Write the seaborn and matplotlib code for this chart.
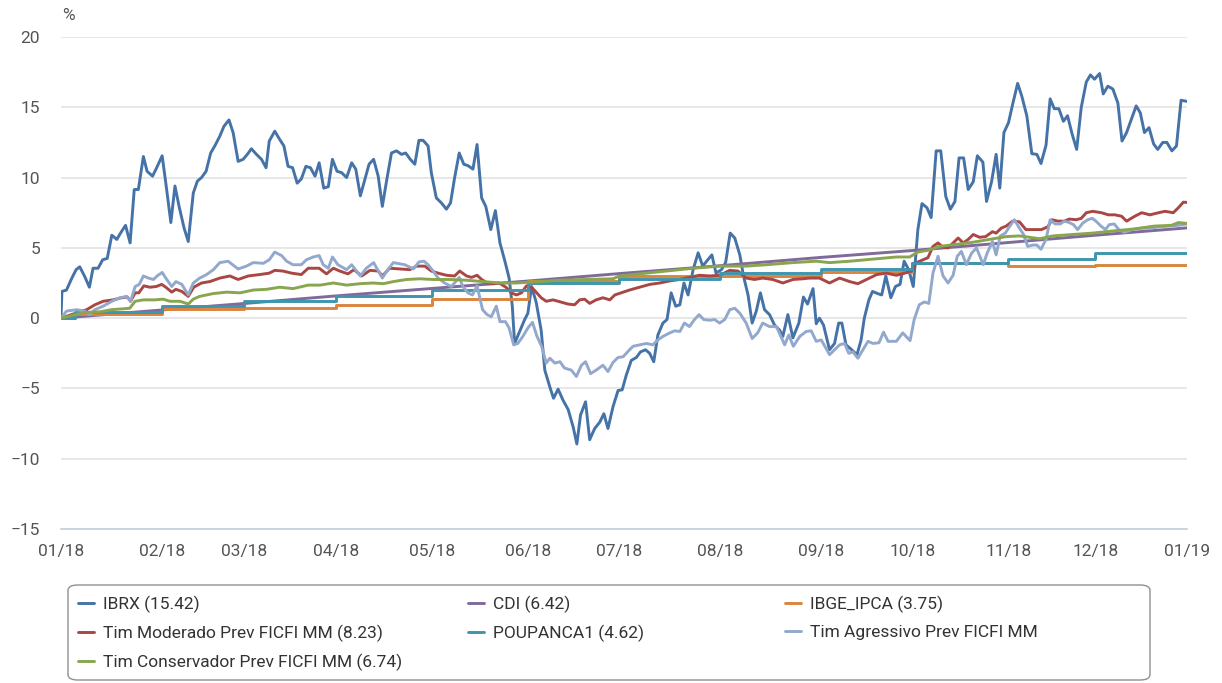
import matplotlib
matplotlib.use('Agg')
import matplotlib.pyplot as plt
from matplotlib import font_manager
from matplotlib.patches import FancyBboxPatch
import seaborn as sns
import pandas as pd

# eixo x: dias úteis de 2018, ticks no início de cada mês
month_labels = ['01/18', '02/18', '03/18', '04/18', '05/18', '06/18', '07/18',
                '08/18', '09/18', '10/18', '11/18', '12/18', '01/19']
month_day = [0, 22, 40, 60, 81, 102, 122, 144, 166, 186, 207, 226, 246]

ibrx_day = [0, 0.2, 1.2, 2.3, 3.3, 4.1, 5.2, 6.2, 7.0, 8.1, 9.1, 10.1, 11.1, 12.2, 13.0, 14.1, 15.1, 16.0, 16.9,
            18.0, 18.8, 20.0, 20.9, 22.1, 22.9, 24.0, 24.9, 25.8, 26.9, 27.8, 28.9, 29.8, 30.7, 31.7, 32.7,
            33.6, 34.7, 35.6, 36.7, 37.6, 38.7, 39.8, 40.7, 41.6, 42.7, 43.8, 44.8, 45.5, 46.7, 47.8, 48.7,
            49.6, 50.6, 51.6, 52.5, 53.5, 54.5, 55.5, 56.4, 57.4, 58.4, 59.3, 60.3, 61.3, 62.4, 63.5, 64.4,
            65.4, 66.4, 67.3, 68.3, 69.3, 70.2, 71.2, 72.2, 73.3, 74.4, 75.3, 76.3, 77.3, 78.2, 79.1, 80.2,
            80.9, 82.0, 83.1, 84.2, 85.1, 86.0, 87.0, 88.0, 88.9, 90.0, 90.9, 91.9, 92.8, 93.9, 94.9, 95.9,
            96.9, 97.9, 98.6, 99.1, 100.2, 101.3, 102.0, 102.8, 103.8, 104.9, 105.7, 106.8, 107.6, 108.6,
            109.7, 110.8, 111.9, 112.7, 113.5, 114.6, 115.5, 116.6, 117.7, 118.6, 119.5, 120.6, 121.7,
            122.6, 123.5, 124.6, 125.7, 126.6, 127.7, 128.6, 129.5, 130.4, 131.5, 132.4, 133.3, 134.3,
            135.2, 136.1, 137.0, 138.1, 139.2, 140.2, 141.3, 142.2, 143.1, 144.3, 145.2, 146.2, 147.2,
            148.3, 149.1, 150.1, 151.0, 151.9, 152.8, 153.7, 154.8, 155.9, 157.0, 157.7, 158.8, 159.9,
            161.2, 162.2, 163.1, 164.3, 165.0, 165.7, 166.6, 167.9, 169.0, 169.9, 170.6, 171.5, 172.4,
            173.9, 174.8, 175.5, 176.5, 177.3, 178.4, 179.3, 180.2, 181.3, 182.3, 183.3, 184.2, 185.2,
            186.2, 187.2, 188.1, 189.2, 190.1, 191.2, 192.2, 193.3, 194.3, 195.3, 196.2, 197.2, 198.2,
            199.3, 200.2, 201.4, 202.2, 203.3, 204.3, 205.1, 206.0, 207.0, 207.9, 209.0, 209.9, 211.0,
            212.1, 213.2, 214.1, 215.2, 216.1, 217.0, 218.0, 219.0, 219.9, 220.9, 221.9, 222.9, 224.0,
            224.9, 225.8, 226.9, 227.7, 228.7, 229.8, 230.9, 231.8, 232.8, 233.8, 234.9, 235.8, 236.7,
            237.7, 238.7, 239.6, 240.7, 241.6, 242.7, 243.7, 244.7, 246]
ibrx_val = [0, 1.9, 2.0, 2.8, 3.45, 3.65, 2.95, 2.2, 3.55, 3.55, 4.15, 4.25, 5.9, 5.6, 6.05, 6.6, 5.35, 9.15, 9.15,
            11.5, 10.45, 10.1, 10.7, 11.55, 9.6, 6.8, 9.4, 7.95, 6.4, 5.45, 8.9, 9.75, 10.0, 10.45, 11.75,
            12.25, 12.95, 13.65, 14.1, 13.2, 11.15, 11.3, 11.65, 12.05, 11.65, 11.3, 10.7, 12.6, 13.3, 12.7, 12.25,
            10.8, 10.7, 9.6, 9.9, 10.8, 10.7, 10.1, 11.05, 9.25, 9.35, 11.3, 10.45, 10.35, 10.0, 11.05, 10.6,
            8.7, 9.9, 10.95, 11.3, 10.1, 7.95, 9.9, 11.75, 11.9, 11.65, 11.75, 11.3, 10.95, 12.65, 12.65, 12.25,
            10.35, 8.55, 8.2, 7.75, 8.2, 10.0, 11.75, 10.95, 10.85, 10.6, 12.35, 8.55, 7.95, 6.3, 7.65, 5.35,
            4.15, 2.85, 0.85, -1.8, -0.95, -0.1, 0.35, 2.25, 1.15, -0.85, -3.7, -4.9, -5.7, -5.05,
            -5.85, -6.5, -7.75, -8.95, -6.9, -5.95, -8.65, -7.85, -7.4, -6.8, -7.85, -6.3, -5.15,
            -5.1, -4.05, -3.0, -2.8, -2.4, -2.25, -2.5, -3.1, -1.2, -0.35, -0.1, 1.8, 0.85,
            0.95, 2.5, 1.65, 3.45, 4.65, 3.7, 4.15, 4.5, 3.2, 3.45, 3.95, 6.05, 5.7,
            4.5, 3.0, 1.65, -0.35, 0.5, 1.8, 0.6, 0.25, -0.5, -0.85, -1.3, 0.25, -1.4,
            -0.35, 1.5, 1.0, 2.1, -0.4, 0.0, -0.5, -2.25, -1.8, -0.35, -0.35, -1.9, -2.15,
            -2.6, -1.55, 0.0, 1.3, 1.9, 1.75, 1.65, 3.0, 1.45, 2.25, 2.4, 4.05, 3.45,
            2.25, 6.3, 8.15, 7.85, 7.15, 11.9, 11.9, 8.65, 7.75, 8.3, 11.4, 11.4, 9.15,
            9.7, 11.55, 11.1, 8.3, 9.7, 11.65, 9.25, 13.2, 13.9, 15.2, 16.7, 15.8, 14.4,
            11.7, 11.65, 11.0, 12.3, 15.6, 14.9, 14.9, 14.0, 14.4, 13.1, 12.0, 15.0, 16.8,
            17.3, 17.0, 17.4, 15.95, 16.5, 16.3, 15.3, 12.6, 13.2, 14.1, 15.1, 14.6, 13.2,
            13.55, 12.4, 12.0, 12.5, 12.5, 11.9, 12.25, 15.5, 15.42]

cdi_day = month_day
cdi_val = [0, 0.58, 1.04, 1.58, 2.11, 2.64, 3.17, 3.73, 4.32, 4.81, 5.38, 5.90, 6.42]

ipca_day = [0, 3, 22, 40, 60, 81, 102, 122, 144, 166, 186, 207, 226, 246]
ipca_val = [0, 0.3, 0.62, 0.75, 0.95, 1.38, 2.62, 2.98, 2.98, 3.3, 3.93, 3.7, 3.76, 3.76]

poup_day = [0, 3, 22, 40, 60, 81, 102, 122, 144, 166, 186, 207, 226, 246]
poup_val = [0, 0.42, 0.85, 1.2, 1.6, 2.0, 2.5, 2.8, 3.19, 3.5, 3.9, 4.2, 4.62, 4.62]

mod_day = [0, 4.1, 5.6, 7.4, 9.2, 11.4, 13.2, 14.5, 15.2, 16.2, 17.0, 18.1, 19.4, 20.8, 22.0, 22.9, 24.2, 25.1,
           26.4, 27.8, 29.0, 30.7, 32.5, 34.7, 36.9, 38.7, 40.9, 43.4, 45.5, 46.7, 48.5, 50.4, 52.5, 54.0,
           56.4, 58.0, 59.5, 60.9, 62.7, 64.0, 65.7, 67.5, 69.3, 70.2, 71.8, 74.0, 76.2, 77.7, 79.5, 80.9,
           82.4, 84.2, 86.0, 87.1, 88.6, 89.7, 90.9, 91.9, 93.1, 94.4, 95.7, 97.2, 98.4, 99.5, 100.6,
           101.7, 102.8, 103.8, 104.9, 106.0, 107.5, 108.6, 110.8, 112.2, 113.3, 114.4, 115.5, 116.9,
           118.4, 119.9, 121.0, 122.4, 124.2, 126.4, 128.6, 130.8, 133.0, 135.2, 137.3, 139.5, 141.7,
           143.9, 146.1, 147.9, 149.7, 151.5, 153.3, 155.5, 157.7, 159.9, 162.1, 163.5, 165.7, 167.9,
           170.1, 172.3, 174.1, 176.0, 178.2, 180.3, 182.5, 184.3, 185.8, 186.9, 188.3, 189.4, 190.5,
           191.6, 192.7, 193.8, 194.9, 196.0, 197.1, 198.2, 199.3, 200.7, 202.0, 203.5, 204.3, 205.4,
           206.5, 207.9, 209.4, 210.8, 212.5, 214.2, 215.6, 216.5, 217.8, 219.2, 220.3, 221.8, 222.9,
           224.0, 225.4, 227.3, 228.8, 230.2, 231.7, 232.8, 234.6, 236.1, 237.9, 239.8, 241.2, 243.0,
           244.1, 245.2, 246]
mod_val = [0, 0.45, 0.6, 0.95, 1.2, 1.3, 1.45, 1.5, 1.2, 1.8, 1.8, 2.3, 2.2, 2.25, 2.4, 2.2, 1.85, 2.05,
           1.9, 1.55, 2.2, 2.5, 2.6, 2.85, 3.0, 2.75, 3.0, 3.1, 3.2, 3.4, 3.35, 3.2, 3.1, 3.55,
           3.55, 3.15, 3.55, 3.35, 3.15, 3.45, 3.0, 3.4, 3.35, 3.0, 3.55, 3.5, 3.45, 3.7, 3.7, 3.35,
           3.2, 3.05, 3.0, 3.35, 3.0, 2.9, 3.05, 2.75, 2.5, 2.45, 2.5, 2.2, 1.8, 1.65, 1.8,
           2.3, 2.2, 1.85, 1.45, 1.2, 1.3, 1.2, 1.0, 0.95, 1.3, 1.35, 1.05, 1.3,
           1.45, 1.3, 1.65, 1.8, 2.0, 2.2, 2.4, 2.5, 2.65, 2.75, 2.9, 3.05, 3.0,
           3.05, 3.4, 3.35, 2.85, 2.75, 2.85, 2.75, 2.5, 2.75, 2.8, 2.85, 2.85, 2.5,
           2.85, 2.6, 2.45, 2.75, 3.1, 3.2, 3.05, 3.2, 3.35, 3.95, 4.15, 4.3, 5.1,
           5.35, 5.05, 5.0, 5.35, 5.7, 5.35, 5.6, 5.95, 5.75, 5.8, 6.15, 6.05, 6.4,
           6.55, 6.9, 6.85, 6.3, 6.3, 6.3, 6.5, 7.0, 6.9, 6.9, 7.05, 7.0, 7.1,
           7.5, 7.6, 7.5, 7.35, 7.35, 7.25, 6.9, 7.25, 7.5, 7.35, 7.5, 7.6, 7.5,
           7.85, 8.25, 8.23]

agr_day = [0, 1.2, 3.4, 5.2, 6.2, 7.4, 9.2, 11.1, 12.9, 14.3, 15.2, 16.2, 17.1, 18.0, 19.1, 20.2, 21.0, 22.1,
           23.1, 24.2, 25.1, 26.4, 27.8, 28.9, 30.3, 31.8, 33.3, 34.7, 36.5, 38.7, 40.5, 42.0, 44.2, 45.5,
           46.7, 48.2, 49.3, 50.7, 52.5, 53.6, 55.1, 56.4, 57.3, 58.4, 59.3, 60.5, 62.4, 63.5, 65.4, 66.7,
           68.3, 70.2, 71.2, 72.6, 75.1, 77.0, 78.2, 79.3, 80.2, 81.3, 82.4, 83.8, 85.3, 87.0, 87.8, 88.9,
           89.9, 90.9, 92.1, 93.1, 94.0, 95.1, 95.9, 97.1, 97.9, 98.9, 99.8, 100.9, 102.0, 103.0, 104.0,
           105.0, 106.0, 106.8, 107.9, 109.0, 110.0, 111.5, 112.6, 113.7, 114.6, 115.7, 116.9, 118.4,
           119.5, 120.6, 121.7, 122.8, 124.2, 125.0, 126.4, 127.9, 129.3, 130.4, 131.5, 133.0, 134.1,
           135.2, 136.2, 137.3, 138.4, 139.4, 140.4, 141.7, 142.8, 143.9, 145.0, 146.1, 147.2, 148.3,
           149.7, 151.0, 152.2, 153.3, 154.8, 156.3, 158.1, 159.0, 160.0, 161.4, 162.8, 163.9, 165.0,
           166.1, 167.9, 169.0, 170.1, 171.2, 172.1, 173.0, 174.1, 175.2, 176.3, 177.4, 178.7, 179.7,
           180.7, 182.5, 183.9, 185.5, 186.4, 187.5, 188.6, 189.6, 190.5, 191.6, 192.7, 193.8, 194.9,
           195.8, 196.7, 197.8, 198.9, 200.0, 201.5, 202.3, 203.5, 204.3, 205.2, 206.3, 207.2, 208.3,
           209.2, 210.3, 211.2, 212.3, 213.2, 214.1, 215.2, 216.1, 217.2, 218.3, 219.2, 220.3, 221.2,
           222.1, 223.2, 224.3, 225.3, 226.1, 227.2, 228.2, 229.0, 230.1, 231.1, 232.3, 234.0, 236.0,
           238.0, 240.0, 242.0, 244.0, 246]
agr_val = [0, 0.5, 0.6, 0.5, 0.25, 0.6, 0.85, 1.2, 1.45, 1.55, 1.2, 2.25, 2.4, 3.0, 2.85, 2.75, 3.0, 3.25,
           2.75, 2.25, 2.6, 2.4, 1.65, 2.5, 2.85, 3.1, 3.45, 3.95, 4.05, 3.5, 3.7, 3.95, 3.9, 4.15,
           4.7, 4.45, 4.05, 3.8, 3.8, 4.15, 4.35, 4.45, 3.8, 3.55, 4.35, 3.8, 3.45, 3.8, 3.0, 3.55,
           3.95, 2.85, 3.35, 3.95, 3.8, 3.5, 4.0, 4.05, 3.8, 3.35, 2.85, 2.5, 2.25, 2.9, 2.25, 1.8,
           1.65, 2.3, 0.6, 0.25, 0.1, 0.85, -0.25, -0.25, -0.7, -1.9, -1.8, -1.3, -0.7, -0.3, -1.3,
           -2.0, -3.2, -2.85, -3.2, -3.1, -3.55, -3.7, -4.15, -3.35, -3.1, -3.95, -3.7, -3.35,
           -3.8, -3.15, -2.8, -2.75, -2.25, -2.0, -1.9, -1.8, -1.9, -1.55, -1.3, -1.05, -0.9,
           -0.95, -0.35, -0.6, -0.1, 0.25, -0.1, -0.15, -0.1, -0.35, -0.1, 0.6, 0.7, 0.35,
           -0.35, -1.45, -1.05, -0.35, -0.6, -0.6, -1.9, -1.2, -2.0, -1.3, -0.95, -0.9, -1.65,
           -1.55, -2.6, -2.25, -1.9, -1.8, -2.5, -2.4, -2.85, -2.25, -1.65, -1.8, -1.75, -1.0,
           -1.65, -1.65, -1.05, -1.6, -0.1, 0.95, 1.15, 1.05, 3.2, 4.4, 3.0, 2.5, 3.05,
           4.4, 4.75, 3.8, 4.6, 5.0, 3.8, 4.6, 5.45, 4.5, 5.85, 6.05, 6.5, 7.0,
           6.5, 5.95, 5.1, 5.2, 5.2, 4.9, 5.6, 7.0, 6.7, 6.7, 6.9, 6.8, 6.65,
           6.3, 6.75, 7.0, 7.1, 6.9, 6.55, 6.3, 6.65, 6.7, 6.3, 6.1, 6.3, 6.4,
           6.4, 6.5, 6.55, 6.6, 6.7]

cons_day = [0, 5, 8.5, 11, 15, 16.2, 18, 20.5, 22.3, 23.8, 26, 27.8, 28.9, 30.3, 33.3, 36.2, 39.1, 42, 44.9,
            47.8, 50.7, 54, 56.6, 59.5, 62.4, 65.3, 68.2, 70.4, 72.6, 75.5, 78.4, 81.3, 84.9, 88.5, 92.2,
            95.9, 99.5, 104.6, 109, 114.8, 120.6, 122, 126.4, 132.2, 138.1, 143.9, 149.7, 154.1, 159.9,
            165, 167.9, 172.3, 177.4, 182.5, 185.4, 187.2, 189.7, 191.9, 195.6, 199.2, 202.8, 206.5,
            209.4, 213.8, 216.7, 221, 225.4, 229.8, 234.6, 238.9, 242.6, 244.1, 246]
cons_val = [0, 0.4, 0.45, 0.6, 0.7, 1.2, 1.3, 1.3, 1.35, 1.2, 1.2, 1.0, 1.35, 1.55, 1.75, 1.85, 1.8, 2.0, 2.05,
            2.2, 2.1, 2.35, 2.35, 2.5, 2.35, 2.45, 2.5, 2.45, 2.6, 2.75, 2.8, 2.75, 2.75, 2.7, 2.6,
            2.5, 2.5, 2.6, 2.7, 2.75, 2.8, 3.0, 3.15, 3.35, 3.55, 3.7, 3.7, 3.8, 3.95,
            4.05, 3.95, 4.05, 4.2, 4.35, 4.35, 4.7, 4.85, 5.1, 5.25, 5.4, 5.6, 5.8,
            5.85, 5.65, 5.85, 5.95, 6.05, 6.2, 6.35, 6.55, 6.6, 6.8, 6.74]

# nome, dias, valores, cor, degrau
series = [
    ('IBRX (15.42)', ibrx_day, ibrx_val, '#4572A7', False),
    ('CDI (6.42)', cdi_day, cdi_val, '#80699B', False),
    ('IBGE_IPCA (3.75)', ipca_day, ipca_val, '#DB843D', True),
    ('Tim Moderado Prev FICFI MM (8.23)', mod_day, mod_val, '#AA4643', False),
    ('POUPANCA1 (4.62)', poup_day, poup_val, '#3D96AE', True),
    ('Tim Agressivo Prev FICFI MM', agr_day, agr_val, '#92A8CD', False),
    ('Tim Conservador Prev FICFI MM (6.74)', cons_day, cons_val, '#89A54E', False),
]

sns.set_style('white')
names = {f.name for f in font_manager.fontManager.ttflist}
font = 'Roboto' if 'Roboto' in names else 'DejaVu Sans'
plt.rcParams['font.family'] = [font, 'DejaVu Sans']

fig = plt.figure(figsize=(12.22, 6.83), dpi=100)
ax = fig.add_axes([61 / 1222, 1 - 529 / 683, 1126 / 1222, 492 / 683])

lines = {}
for name, d, v, color, step in series:
    df = pd.DataFrame({'dia': d, 'pct': v})
    kw = {'drawstyle': 'steps-post'} if step else {}
    sns.lineplot(data=df, x='dia', y='pct', ax=ax, color=color, lw=2.1,
                 label=name, legend=False, **kw)
    lines[name] = ax.get_lines()[-1]

ax.set_xlim(0, 246)
ax.set_ylim(-15, 20)
ax.set_xlabel('')
ax.set_ylabel('')
ax.set_yticks(range(-15, 21, 5))
ax.set_xticks(month_day)
ax.set_xticklabels(month_labels)
ax.grid(axis='y', color='#e3e3e3', lw=1.2)
ax.set_axisbelow(True)
for s in ['top', 'right', 'left']:
    ax.spines[s].set_visible(False)
ax.spines['bottom'].set_color('#c0d0e0')
ax.spines['bottom'].set_linewidth(1.2)
ax.tick_params(axis='x', direction='out', length=8, width=1.2, color='#c0d0e0',
               labelsize=12.5, labelcolor='#555555', pad=3)
ax.tick_params(axis='y', length=0, labelsize=12.5, labelcolor='#555555', pad=15)

fig.text(62 / 1222, 1 - 16 / 683, '%', fontsize=12.5, color='#555555', va='center')

# legenda em caixa arredondada com três colunas
box = FancyBboxPatch((68 / 1222, 3 / 683), 1082 / 1222, 95 / 683,
                     boxstyle='round,pad=0,rounding_size=0.008',
                     transform=fig.transFigure, fc='white', ec='#909090', lw=1.0)
fig.patches.append(box)
cols = [
    (78, ['IBRX (15.42)', 'Tim Moderado Prev FICFI MM (8.23)', 'Tim Conservador Prev FICFI MM (6.74)']),
    (468, ['CDI (6.42)', 'POUPANCA1 (4.62)']),
    (785, ['IBGE_IPCA (3.75)', 'Tim Agressivo Prev FICFI MM']),
]
for x0, labels in cols:
    fig.legend([lines[l] for l in labels], labels, loc='upper left',
               bbox_to_anchor=(x0 / 1222, 1 - 596 / 683), frameon=False,
               fontsize=12.5, handlelength=0.95, handletextpad=0.5,
               labelspacing=0.68, borderpad=0, borderaxespad=0,
               labelcolor='#333333')

fig.savefig('out.png', dpi=100)
